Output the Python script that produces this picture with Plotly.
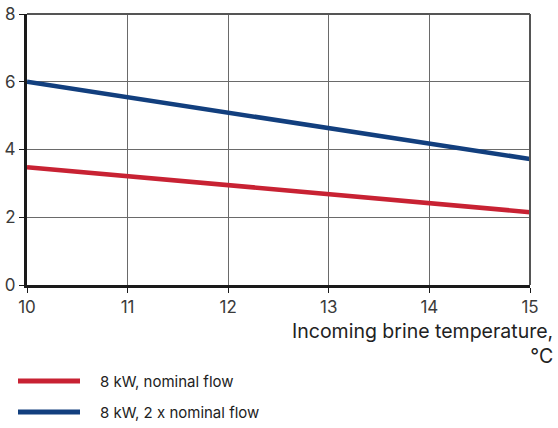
import plotly.graph_objects as go

temps = [10, 11, 12, 13, 14, 15]
nominal_flow = [3.48, 3.21, 2.95, 2.68, 2.42, 2.15]
double_flow = [6.0, 5.54, 5.08, 4.63, 4.17, 3.72]
series_names = ["8 kW, nominal flow", "8 kW, 2 x nominal flow"]
x_ticks = [10, 11, 12, 13, 14, 15]
y_ticks = [0, 2, 4, 6, 8]
x_title = "Incoming brine temperature,<br>°C"

RED = "#C82233"
BLUE = "#123F7E"
FONT = "Inter, Roboto, sans-serif"

fig = go.Figure()
fig.add_trace(go.Scatter(x=temps, y=nominal_flow, mode="lines", name=series_names[0],
                         line=dict(color=RED, width=4.5)))
fig.add_trace(go.Scatter(x=temps, y=double_flow, mode="lines", name=series_names[1],
                         line=dict(color=BLUE, width=4.5)))

W, H = 558, 428
L, R, T, B = 27, 28, 14, 143

fig.update_layout(
    width=W, height=H,
    margin=dict(l=L, r=R, t=T, b=B, autoexpand=False),
    paper_bgcolor="white", plot_bgcolor="white",
    showlegend=False,
    font=dict(family=FONT, color="#333333", size=16),
)
fig.update_xaxes(range=[10, 15], tickvals=x_ticks, showgrid=True, gridcolor="#6a6a6a", gridwidth=1,
                 showline=True, linecolor="#1a1a1a", linewidth=3, ticks="outside", ticklen=5,
                 tickcolor="#1a1a1a", tickwidth=1, zeroline=False, automargin=False,
                 tickfont=dict(size=17, color="#3a3a3a", family=FONT))
fig.update_yaxes(range=[0, 8], tickvals=y_ticks, showgrid=True, gridcolor="#6a6a6a", gridwidth=1,
                 showline=True, linecolor="#1a1a1a", linewidth=3, ticks="outside", ticklen=5,
                 tickcolor="#1a1a1a", tickwidth=1, zeroline=False, automargin=False,
                 tickfont=dict(size=17, color="#3a3a3a", family=FONT))

pw = W - L - R
ph = H - T - B

def px_x(px):
    return (px - L) / pw

def px_y(py):
    return (H - B - py) / ph

# top and right border
fig.add_shape(type="line", xref="paper", yref="paper", x0=0, x1=1, y0=1, y1=1,
              line=dict(color="#555555", width=2))
fig.add_shape(type="line", xref="paper", yref="paper", x0=1, x1=1, y0=0, y1=1,
              line=dict(color="#555555", width=2))

# axis title
fig.add_annotation(text=x_title, xref="paper", yref="paper", x=px_x(555), y=px_y(343),
                   xanchor="right", yanchor="middle", align="right", showarrow=False,
                   font=dict(size=19.5, color="#222222", family=FONT))

# manual legend
for name, color, py in [(series_names[0], RED, 381), (series_names[1], BLUE, 412)]:
    fig.add_shape(type="line", xref="paper", yref="paper", x0=px_x(18), x1=px_x(80),
                  y0=px_y(py), y1=px_y(py), line=dict(color=color, width=5))
    fig.add_annotation(text=name, xref="paper", yref="paper", x=px_x(98), y=px_y(py),
                       xanchor="left", yanchor="middle", showarrow=False,
                       font=dict(size=15, color="#222222", family=FONT))

fig.write_html("out.html", config={"displayModeBar": False},
               post_script="document.body.style.margin='0';document.body.style.overflow='hidden';")
